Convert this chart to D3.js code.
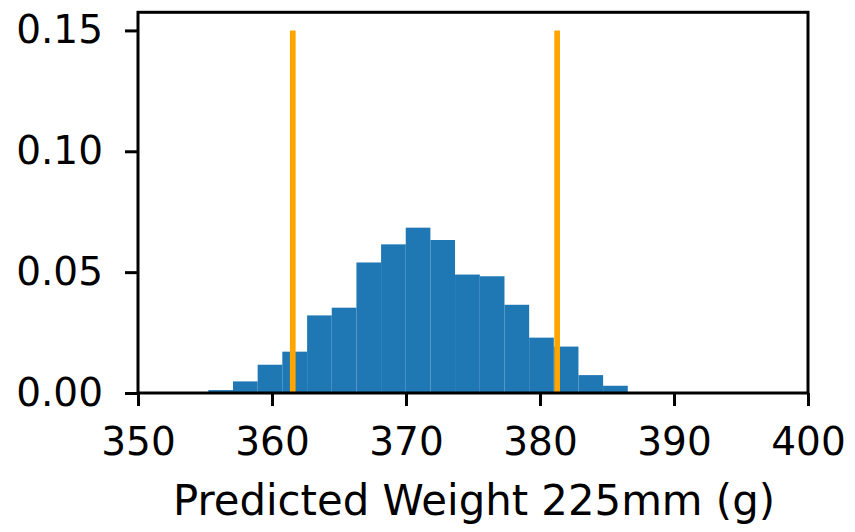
<!DOCTYPE html>
<html>
<head>
<meta charset="utf-8">
<script src="https://cdn.jsdelivr.net/npm/d3@7"></script>
<style>
  html, body { margin: 0; padding: 0; background: #fff; }
  svg { display: block; }
  text { font-family: "DejaVu Sans", sans-serif; fill: #000; }
</style>
</head>
<body>
<svg id="chart" width="855" height="532"></svg>
<script>
// ---- data ----
const binEdges = [355.25, 357.09, 358.93, 360.77, 362.62, 364.46, 366.30, 368.14, 369.98,
                  371.82, 373.66, 375.51, 377.35, 379.19, 381.03, 382.87, 384.71, 386.55];
const densities = [0.0012, 0.0048, 0.0117, 0.0171, 0.0321, 0.0353, 0.0540, 0.0615, 0.0684,
                   0.0633, 0.0490, 0.0483, 0.0365, 0.0229, 0.0192, 0.0074, 0.0030];
const intervalLines = [361.55, 381.28];
const lineTop = 0.15;
const xTicks = [350, 360, 370, 380, 390, 400];
const yTicks = [0.00, 0.05, 0.10, 0.15];
const xDomain = [350, 400];
const yDomain = [0, 0.1575];
const xLabel = "Predicted Weight 225mm (g)";

// ---- layout ----
const plotLeft = 138, plotRight = 808, plotTop = 12.3, plotBottom = 393;
const fontSize = 39;

const svg = d3.select("#chart");
const x = d3.scaleLinear().domain(xDomain).range([plotLeft, plotRight]);
const y = d3.scaleLinear().domain(yDomain).range([plotBottom, plotTop]);

const bins = densities.map((d, i) => ({ x0: binEdges[i], x1: binEdges[i + 1], v: d }));

svg.append("g").selectAll("rect").data(bins).join("rect")
  .attr("x", d => x(d.x0))
  .attr("width", d => x(d.x1) - x(d.x0))
  .attr("y", d => y(d.v))
  .attr("height", d => y(0) - y(d.v))
  .attr("fill", "#1f77b4");

svg.append("g").selectAll("line").data(intervalLines).join("line")
  .attr("x1", d => x(d)).attr("x2", d => x(d))
  .attr("y1", y(0)).attr("y2", y(lineTop))
  .attr("stroke", "#ffa500").attr("stroke-width", 5.7);

// axes
const xAxis = svg.append("g").attr("transform", `translate(0,${plotBottom})`)
  .call(d3.axisBottom(x).tickValues(xTicks).tickFormat(d3.format("d")).tickSize(13).tickPadding(21));
const yAxis = svg.append("g").attr("transform", `translate(${plotLeft},0)`)
  .call(d3.axisLeft(y).tickValues(yTicks).tickFormat(d3.format(".2f")).tickSize(13).tickPadding(22));

[xAxis, yAxis].forEach(g => {
  g.select(".domain").remove();
  g.selectAll(".tick line").attr("stroke", "#000").attr("stroke-width", 3);
  g.selectAll(".tick text").attr("font-size", fontSize).attr("font-family", "DejaVu Sans").attr("fill", "#000");
});

// frame
svg.append("rect")
  .attr("x", plotLeft).attr("y", plotTop)
  .attr("width", plotRight - plotLeft).attr("height", plotBottom - plotTop)
  .attr("fill", "none").attr("stroke", "#000").attr("stroke-width", 3);

svg.append("text")
  .attr("x", (plotLeft + plotRight) / 2 + 1).attr("y", 515)
  .attr("text-anchor", "middle")
  .attr("font-size", 41.8)
  .text(xLabel);
</script>
</body>
</html>
